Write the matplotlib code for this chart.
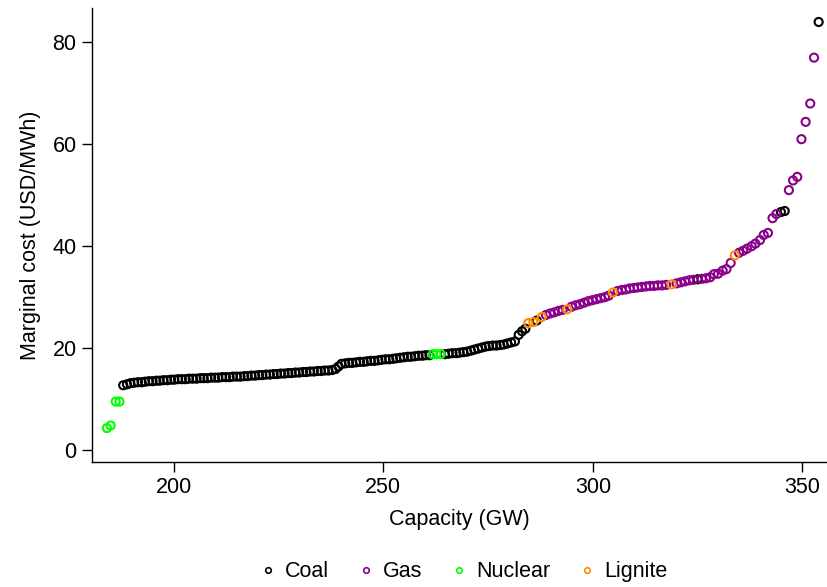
import matplotlib
matplotlib.use("Agg")
from matplotlib import pyplot as plt
from matplotlib.lines import Line2D

plt.rcParams['font.family'] = ['Liberation Sans', 'DejaVu Sans']

# merit order: cumulative capacity (GW) and marginal cost (USD/MWh) per plant
coal_x = [187.9, 188.8, 189.6, 190.5, 191.4, 192.3, 193.1, 194.0, 194.9, 195.8,
          196.6, 197.5, 198.4, 199.3, 200.1, 201.0, 201.9, 202.8, 203.6, 204.5,
          205.4, 206.3, 207.1, 208.0, 208.9, 209.8, 210.6, 211.5, 212.4, 213.3,
          214.1, 215.0, 215.9, 216.8, 217.6, 218.5, 219.4, 220.3, 221.1, 222.0,
          222.9, 223.8, 224.6, 225.5, 226.4, 227.3, 228.1, 229.0, 229.9, 230.8,
          231.6, 232.5, 233.4, 234.3, 235.1, 236.0, 236.9, 237.8, 238.6, 239.3,
          240.0, 240.9, 241.8, 242.6, 243.5, 244.4, 245.3, 246.1, 247.0, 247.9,
          248.8, 249.6, 250.5, 251.4, 252.3, 253.1, 254.0, 254.9, 255.8, 256.6,
          257.5, 258.4, 259.3, 260.1, 261.0,
          264.7, 265.6, 266.5, 267.4, 268.2, 269.1, 270.0, 270.9, 271.7, 272.6,
          273.5, 274.4, 275.2, 276.1, 277.0, 277.9, 278.7, 279.6, 280.5, 281.4,
          282.3, 283.1, 283.9, 286.6, 325.0, 344.9, 345.8, 353.9]
coal_y = [12.7, 12.9, 13.1, 13.2, 13.3, 13.3, 13.4, 13.5, 13.5, 13.6,
          13.6, 13.7, 13.7, 13.8, 13.8, 13.9, 13.9, 13.9, 14.0, 14.0,
          14.0, 14.1, 14.1, 14.1, 14.2, 14.2, 14.2, 14.3, 14.3, 14.3,
          14.4, 14.4, 14.4, 14.5, 14.5, 14.6, 14.6, 14.7, 14.7, 14.8,
          14.8, 14.9, 14.9, 15.0, 15.0, 15.1, 15.1, 15.2, 15.2, 15.3,
          15.3, 15.4, 15.4, 15.5, 15.5, 15.6, 15.6, 15.7, 15.9, 16.4,
          16.9, 17.0, 17.1, 17.1, 17.2, 17.3, 17.3, 17.4, 17.5, 17.5,
          17.6, 17.7, 17.8, 17.8, 17.9, 18.0, 18.1, 18.2, 18.3, 18.3,
          18.4, 18.5, 18.5, 18.6, 18.6,
          18.8, 18.9, 19.0, 19.0, 19.1, 19.2, 19.3, 19.5, 19.7, 19.9,
          20.1, 20.3, 20.4, 20.5, 20.5, 20.6, 20.7, 20.9, 21.1, 21.3,
          22.6, 23.3, 23.8, 25.4, 33.5, 46.7, 46.9, 84.0]

gas_x = [288.8, 289.8, 290.8, 291.8, 292.8, 294.9, 295.9, 296.9, 297.9, 298.9,
         299.9, 300.9, 301.9, 302.9, 303.8, 305.9, 306.9, 307.9, 308.8, 309.8,
         310.7, 311.7, 312.7, 313.6, 314.6, 315.5, 316.5, 317.5, 320.0, 321.0,
         322.0, 323.0, 324.0, 326.0, 327.0, 328.0, 328.9, 329.9, 331.0, 331.9,
         332.9, 334.9, 335.9, 336.8, 337.9, 338.8, 339.9, 340.8, 341.8, 342.9,
         343.8, 346.8, 347.8, 348.8, 349.8, 350.8, 351.9, 352.8]
gas_y = [26.5, 26.8, 27.0, 27.3, 27.5, 28.1, 28.4, 28.6, 28.9, 29.2,
         29.4, 29.6, 29.8, 30.0, 30.3, 31.2, 31.4, 31.5, 31.7, 31.8,
         31.9, 32.0, 32.1, 32.2, 32.2, 32.3, 32.3, 32.4, 32.7, 32.9,
         33.1, 33.3, 33.4, 33.6, 33.7, 33.9, 34.5, 34.6, 35.2, 35.5,
         36.7, 38.7, 39.1, 39.5, 40.0, 40.5, 41.2, 42.2, 42.6, 45.5,
         46.3, 51.0, 52.9, 53.6, 61.0, 64.4, 68.0, 77.0]

nuclear_x = [184.0, 184.9, 186.1, 187.0, 261.8, 262.7, 263.7]
nuclear_y = [4.3, 4.8, 9.5, 9.5, 18.8, 18.8, 18.8]

lignite_x = [284.6, 285.8, 287.8, 293.9, 304.8, 318.8, 333.9]
lignite_y = [24.9, 25.1, 26.1, 27.6, 30.9, 32.5, 38.2]

fuels = ["Coal", "Gas", "Nuclear", "Lignite"]
colors = ["black", "#8B008B", "#00FF00", "#FF8C00"]

fig = plt.figure(figsize=(8.27, 5.87), dpi=100)
ax = fig.add_axes([0.111, 0.213, 0.888, 0.773])

series = [(coal_x, coal_y), (gas_x, gas_y), (nuclear_x, nuclear_y), (lignite_x, lignite_y)]
for (xs, ys), c in zip(series, colors):
    ax.scatter(xs, ys, s=34, facecolors="none", edgecolors=c, linewidths=1.5, zorder=3)

ax.set_xlim(180.4, 355.7)
ax.set_ylim(-2.35, 86.7)
ax.set_xticks([200, 250, 300, 350])
ax.set_yticks([0, 20, 40, 60, 80])
ax.spines["top"].set_visible(False)
ax.spines["right"].set_visible(False)
for s in ["left", "bottom"]:
    ax.spines[s].set_linewidth(1.0)
ax.tick_params(direction="out", length=7, width=1.0, labelsize=15.5, pad=4)
ax.set_xlabel("Capacity (GW)", fontsize=15.5, labelpad=8)
ax.set_ylabel("Marginal cost (USD/MWh)", fontsize=15.5, labelpad=8)

handles = [Line2D([], [], linestyle="none", marker="o", markersize=4,
                  markerfacecolor="none", markeredgecolor=c, markeredgewidth=1.2)
           for c in colors]
fig.legend(handles, fuels, loc="center", bbox_to_anchor=(0.559, 0.026), ncol=4,
           frameon=False, fontsize=15.5, handletextpad=0.3, columnspacing=1.2,
           handlelength=1.0)

fig.savefig("out.png", dpi=100)
